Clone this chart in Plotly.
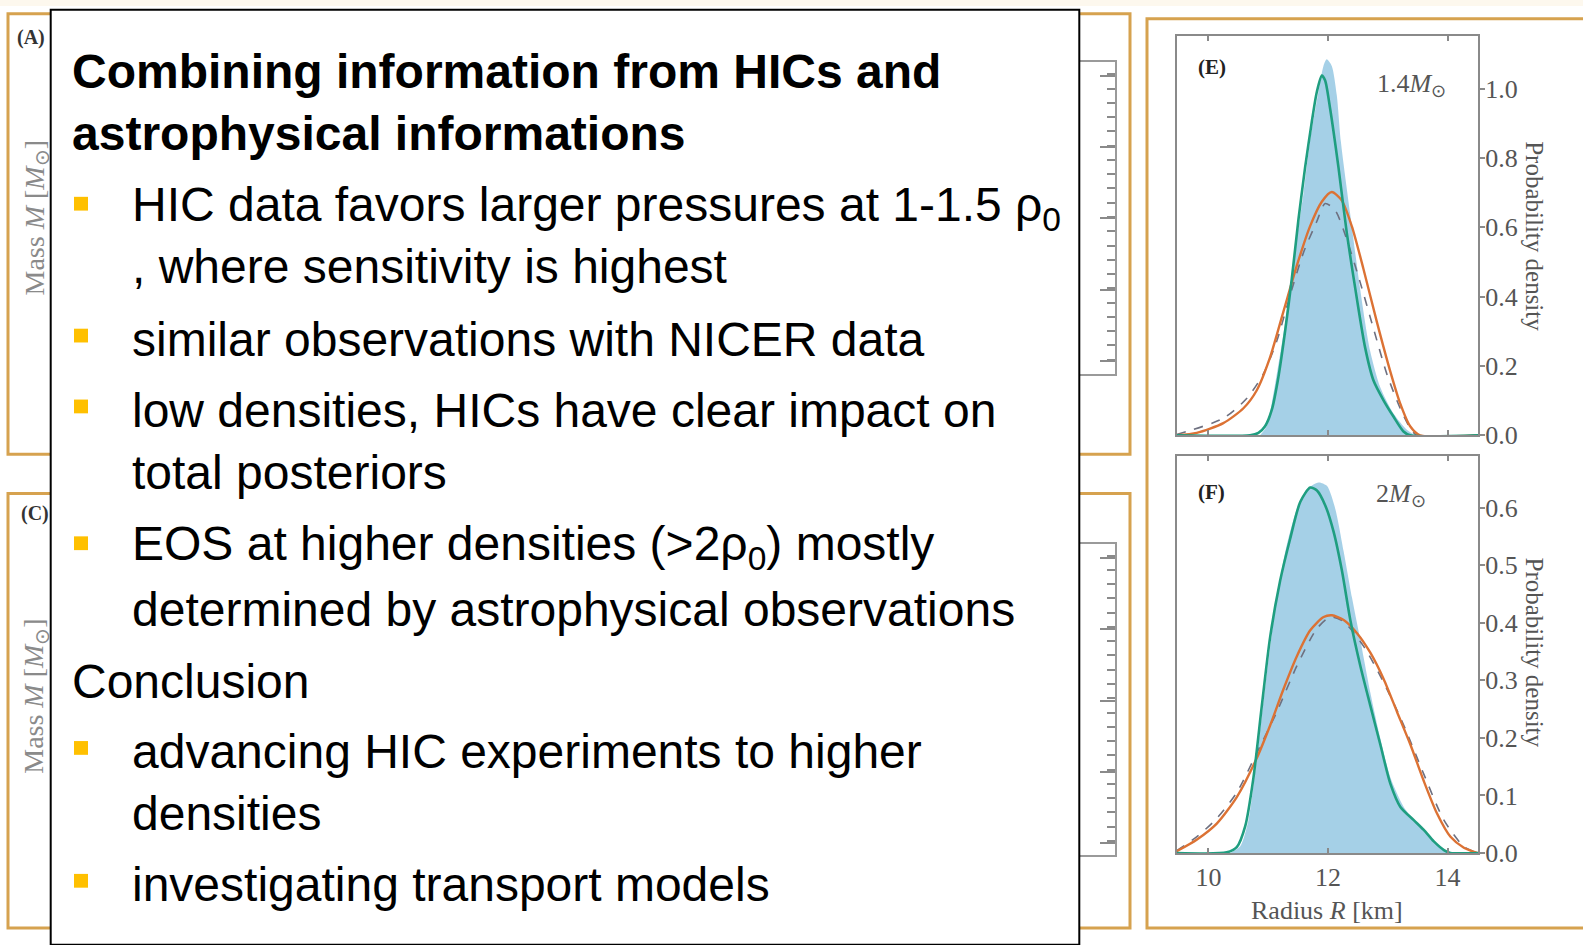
import plotly.graph_objects as go

W, H = 1583, 945

# ---------------- data ----------------
# Panel E : 1.4 Msun
E_blue_x = [10.865, 10.976, 11.06, 11.244, 11.367, 11.478, 11.59, 11.70, 11.84, 11.925, 11.98, 12.064, 12.148, 12.215, 12.371, 12.538, 12.706, 12.873, 13.096, 13.32, 13.46]
E_blue_y = [0.0, 0.026, 0.092, 0.281, 0.423, 0.565, 0.697, 0.849, 0.99, 1.066, 1.085, 1.066, 0.981, 0.849, 0.64, 0.423, 0.243, 0.139, 0.063, 0.016, 0.0]

E_green_x = [9.47, 10.697, 10.837, 10.948, 11.06, 11.17, 11.283, 11.395, 11.506, 11.618, 11.73, 11.813, 11.897, 11.953, 12.036, 12.176, 12.315, 12.483, 12.622, 12.762, 12.93, 13.096, 13.264, 13.375, 14.52]
E_green_y = [0.0, 0.0, 0.007, 0.026, 0.073, 0.167, 0.30, 0.451, 0.622, 0.773, 0.905, 0.99, 1.038, 1.024, 0.943, 0.773, 0.584, 0.395, 0.253, 0.158, 0.101, 0.054, 0.011, 0.0, 0.0]

E_orange_x = [9.47, 9.805, 10.25, 10.586, 10.81, 11.03, 11.255, 11.478, 11.70, 11.897, 12.064, 12.23, 12.40, 12.594, 12.817, 13.04, 13.208, 13.375, 13.54, 14.52]
E_orange_y = [0.0, 0.007, 0.035, 0.078, 0.13, 0.224, 0.357, 0.489, 0.603, 0.674, 0.702, 0.678, 0.603, 0.48, 0.328, 0.186, 0.092, 0.026, 0.0, 0.0]

E_grey_x = [9.47, 10.25, 10.64, 10.92, 11.144, 11.367, 11.59, 11.813, 11.953, 12.12, 12.315, 12.538, 12.76, 12.985, 13.208, 13.375, 13.487, 14.52]
E_grey_y = [0.002, 0.049, 0.106, 0.177, 0.272, 0.404, 0.527, 0.617, 0.669, 0.65, 0.565, 0.442, 0.309, 0.177, 0.078, 0.021, 0.0, 0.0]

# Panel F : 2 Msun
F_blue_x = [10.363, 10.53, 10.67, 10.81, 10.978, 11.145, 11.313, 11.48, 11.648, 11.844, 11.983, 12.123, 12.263, 12.402, 12.542, 12.709, 12.877, 13.045, 13.268, 13.492, 13.715, 13.883, 14.02]
F_blue_y = [0.0, 0.011, 0.057, 0.165, 0.313, 0.444, 0.536, 0.598, 0.632, 0.644, 0.638, 0.598, 0.524, 0.444, 0.37, 0.279, 0.199, 0.131, 0.08, 0.051, 0.028, 0.009, 0.0]

F_green_x = [9.47, 10.307, 10.475, 10.615, 10.754, 10.894, 11.034, 11.2, 11.37, 11.536, 11.704, 11.816, 11.955, 12.095, 12.235, 12.374, 12.542, 12.709, 12.877, 13.045, 13.212, 13.436, 13.603, 13.771, 13.94, 14.05, 14.52]
F_green_y = [0.0, 0.001, 0.01, 0.046, 0.131, 0.256, 0.376, 0.473, 0.547, 0.61, 0.635, 0.63, 0.604, 0.558, 0.49, 0.405, 0.325, 0.256, 0.188, 0.12, 0.08, 0.057, 0.04, 0.02, 0.005, 0.0, 0.0]

F_orange_x = [9.47, 9.804, 10.14, 10.475, 10.81, 11.034, 11.257, 11.48, 11.704, 11.927, 12.067, 12.263, 12.486, 12.709, 12.933, 13.156, 13.38, 13.603, 13.827, 14.05, 14.274, 14.497]
F_orange_y = [0.003, 0.023, 0.051, 0.097, 0.165, 0.222, 0.285, 0.342, 0.387, 0.41, 0.413, 0.405, 0.382, 0.348, 0.302, 0.245, 0.188, 0.125, 0.068, 0.028, 0.009, 0.0]

F_grey_x = [9.47, 9.804, 10.14, 10.475, 10.81, 11.145, 11.48, 11.816, 12.04, 12.263, 12.598, 12.933, 13.268, 13.603, 13.94, 14.274, 14.497]
F_grey_y = [0.004, 0.028, 0.06, 0.105, 0.174, 0.245, 0.325, 0.39, 0.41, 0.402, 0.359, 0.296, 0.222, 0.137, 0.057, 0.011, 0.0]

E_yticks = [0.0, 0.2, 0.4, 0.6, 0.8, 1.0]
F_yticks = [0.0, 0.1, 0.2, 0.3, 0.4, 0.5, 0.6]
x_ticks = [10, 12, 14]

title_lines = ["Combining information from HICs and", "astrophysical informations"]
body_lines = [
    ("bullet", "HIC data favors larger pressures at 1-1.5 ρ<sub>0</sub>"),
    ("cont", ", where sensitivity is highest"),
    ("bullet", "similar observations with NICER data"),
    ("bullet", "low densities, HICs have clear impact on"),
    ("cont", "total posteriors"),
    ("bullet", "EOS at higher densities (>2ρ<sub>0</sub>) mostly"),
    ("cont", "determined by astrophysical observations"),
    ("plain", "Conclusion"),
    ("bullet", "advancing HIC experiments to higher"),
    ("cont", "densities"),
    ("bullet", "investigating transport models"),
]

# ---------------- helpers ----------------
def fx(x):
    return x / W

def fy(y):
    return 1 - y / H

BLUE = "rgba(160,206,230,0.95)"
GREEN = "#1f9e80"
ORANGE = "#dc7234"
GREY = "#6e7080"
AX = "#8a8a8a"
FRAME = "#d6a24f"
SERIF = "Liberation Serif, Times New Roman, serif"
SANS = "Liberation Sans, Arial, sans-serif"

fig = go.Figure()

def add_panel(bx, by, gx, gy, ox, oy, kx, ky, xa, ya):
    fig.add_trace(go.Scatter(x=bx, y=by, mode="lines", fill="tozeroy", fillcolor=BLUE,
                             line=dict(width=0, shape="spline", smoothing=0.7, color=BLUE),
                             xaxis=xa, yaxis=ya, showlegend=False, hoverinfo="skip"))
    fig.add_trace(go.Scatter(x=kx, y=ky, mode="lines",
                             line=dict(width=1.6, color=GREY, dash="dash", shape="spline", smoothing=0.7),
                             xaxis=xa, yaxis=ya, showlegend=False))
    fig.add_trace(go.Scatter(x=ox, y=oy, mode="lines",
                             line=dict(width=2.4, color=ORANGE, shape="spline", smoothing=0.7),
                             xaxis=xa, yaxis=ya, showlegend=False))
    fig.add_trace(go.Scatter(x=gx, y=gy, mode="lines",
                             line=dict(width=2.6, color=GREEN, shape="spline", smoothing=0.7),
                             xaxis=xa, yaxis=ya, showlegend=False))

add_panel(E_blue_x, E_blue_y, E_green_x, E_green_y, E_orange_x, E_orange_y, E_grey_x, E_grey_y, "x", "y")
add_panel(F_blue_x, F_blue_y, F_green_x, F_green_y, F_orange_x, F_orange_y, F_grey_x, F_grey_y, "x2", "y2")

tickfont = dict(family=SERIF, size=26, color="#555555")
xdom = [fx(1176.7), fx(1478)]

common_x = dict(range=[9.47, 14.51], showline=True, linecolor=AX, linewidth=2, mirror="ticks",
                ticks="inside", ticklen=5, tickcolor=AX, tickwidth=2, showgrid=False, zeroline=False,
                tickvals=x_ticks, tickfont=tickfont)
common_y = dict(side="right", showline=True, linecolor=AX, linewidth=2, mirror=True,
                ticks="outside", ticklen=5, tickcolor=AX, tickwidth=2, showgrid=False, zeroline=False,
                tickformat=".1f", tickfont=tickfont, ticklabelstandoff=-5)

layout = dict(
    width=W, height=H, margin=dict(l=0, r=0, t=0, b=0),
    paper_bgcolor="white", plot_bgcolor="rgba(0,0,0,0)", showlegend=False,
    xaxis=dict(domain=xdom, anchor="y", showticklabels=False, **common_x),
    yaxis=dict(domain=[fy(442.3), fy(36.7)], anchor="x", range=[0, 1.152], tickvals=E_yticks, **common_y),
    xaxis2=dict(domain=xdom, anchor="y2", showticklabels=True, **common_x),
    yaxis2=dict(domain=[fy(866.7), fy(463.3)], anchor="x2", range=[0, 0.69], tickvals=F_yticks, **common_y),
)

# decorative ruler axes of the hidden panels (A) and (C)
for i, (top, bot) in zip([3, 4], [(63, 380), (553, 869)]):
    hgt = bot - top
    layout[f"xaxis{i}"] = dict(domain=[fx(900), fx(1115)], anchor=f"y{i}", range=[0, 1], showline=True,
                               linecolor="#9a9a9a", linewidth=2, mirror=True, ticks="", showticklabels=False,
                               showgrid=False, zeroline=False)
    layout[f"yaxis{i}"] = dict(domain=[fy(bot), fy(top)], anchor=f"x{i}", side="right", range=[0, hgt],
                               showline=True, linecolor="#9a9a9a", linewidth=2, mirror=True,
                               ticks="inside", ticklen=15, tickwidth=2, tickcolor="#8a8a8a",
                               tick0=(hgt - 14) - 4 * 72.5, dtick=72.5, showticklabels=False,
                               minor=dict(ticks="inside", ticklen=8, tickwidth=2, tickcolor="#8a8a8a", dtick=14.5),
                               showgrid=False, zeroline=False)
    fig.add_trace(go.Scatter(x=[], y=[], xaxis=f"x{i}", yaxis=f"y{i}", showlegend=False))

fig.update_layout(**layout)

shapes = []
# faint strip at top
shapes.append(dict(type="rect", xref="paper", yref="paper", x0=0, x1=1, y0=fy(6), y1=1,
                   fillcolor="#fdf8ee", line=dict(width=0), layer="below"))
# orange frames
for (x0, y0, x1, y1) in [(8, 14, 1130, 461.5), (8, 501.5, 1130, 943), (1147, 19, 1600, 943)]:
    shapes.append(dict(type="rect", xref="paper", yref="paper", x0=fx(x0), x1=fx(x1), y0=fy(y1), y1=fy(y0),
                       line=dict(color=FRAME, width=3), fillcolor="rgba(0,0,0,0)", layer="below"))
# text box
shapes.append(dict(type="rect", xref="paper", yref="paper", x0=fx(50.7), x1=fx(1079.3), y0=fy(960), y1=fy(10),
                   line=dict(color="black", width=2), fillcolor="white", layer="above"))

annotations = []
# text box contents
title_y = [73, 136]
for t, yy in zip(title_lines, title_y):
    annotations.append(dict(text=f"<b>{t}</b>", x=fx(70), y=fy(yy), xanchor="left", yanchor="middle",
                            font=dict(family=SANS, size=48, color="black")))
body_y = [211, 271, 345, 417, 480, 556, 619, 692, 764, 827, 899]
for (kind, t), yy in zip(body_lines, body_y):
    xx = 70 if kind == "plain" else 130
    annotations.append(dict(text=t, x=fx(xx), y=fy(yy), xanchor="left", yanchor="middle",
                            font=dict(family=SANS, size=48, color="black")))
    if kind == "bullet":
        shapes.append(dict(type="rect", xref="paper", yref="paper", x0=fx(74), x1=fx(88),
                           y0=fy(yy + 3), y1=fy(yy - 11), fillcolor="#ffc000", line=dict(width=0), layer="above"))

# panel labels
lab = dict(family=SERIF, color="#555555")
annotations += [
    dict(text="<b>(E)</b>", x=fx(1212), y=fy(68), font=dict(family=SERIF, size=21, color="#222222")),
    dict(text="<b>(F)</b>", x=fx(1211), y=fy(500), font=dict(family=SERIF, size=21, color="#222222")),
    dict(text="1.4<i>M</i><sub>⊙</sub>", x=fx(1411), y=fy(86), font=dict(size=26, **lab)),
    dict(text="2<i>M</i><sub>⊙</sub>", x=fx(1401), y=fy(503), font=dict(size=26, **lab)),
    dict(text="Probability density", x=fx(1535), y=fy(240), textangle=90, font=dict(size=25, **lab)),
    dict(text="Probability density", x=fx(1535), y=fy(663), textangle=90, font=dict(size=25, **lab)),
    dict(text="Radius <i>R</i> [km]", x=fx(1327), y=fy(925), font=dict(size=26, **lab)),
    dict(text="<b>(A)</b>", x=fx(31), y=fy(38), font=dict(family=SERIF, size=20, color="#333333")),
    dict(text="<b>(C)</b>", x=fx(35), y=fy(522), font=dict(family=SERIF, size=20, color="#333333")),
    dict(text="Mass <i>M</i> [<i>M</i><sub>⊙</sub>]", x=fx(36), y=fy(222), textangle=-90,
         font=dict(size=28, family=SERIF, color="#8a8a8a")),
    dict(text="Mass <i>M</i> [<i>M</i><sub>⊙</sub>]", x=fx(36), y=fy(708), textangle=-90,
         font=dict(size=28, family=SERIF, color="#8a8a8a")),
]
for a in annotations:
    a.setdefault("xref", "paper")
    a.setdefault("yref", "paper")
    a.setdefault("showarrow", False)
    a.setdefault("xanchor", "center")
    a.setdefault("yanchor", "middle")

fig.update_layout(shapes=shapes, annotations=annotations)
fig.write_html("out.html")
